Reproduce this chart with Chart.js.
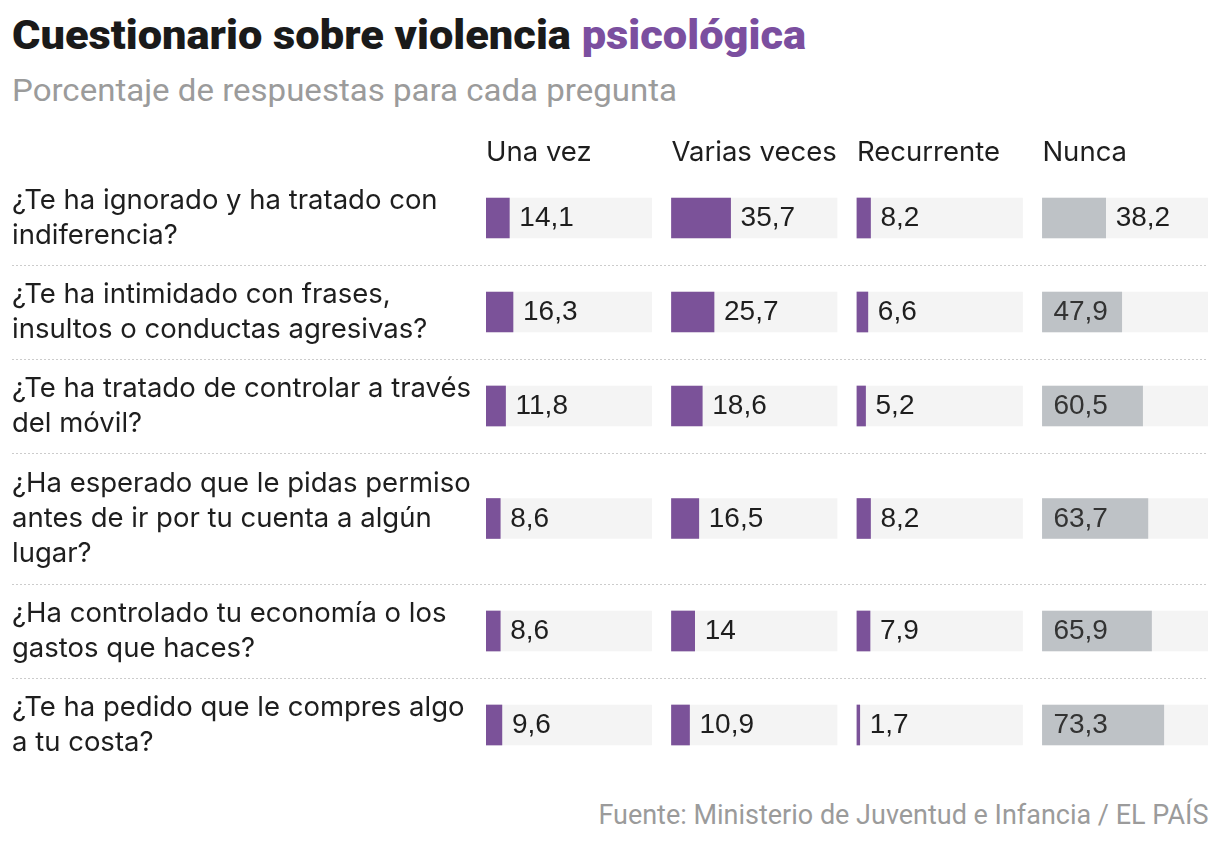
<!DOCTYPE html>
<html lang="es">
<head>
<meta charset="utf-8">
<title>Cuestionario sobre violencia psicológica</title>
<script src="https://cdn.jsdelivr.net/npm/chart.js@4.4.1/dist/chart.umd.min.js"></script>
<style>
  html, body { margin: 0; padding: 0; background: #fff; }
  body { width: 1220px; height: 844px; position: relative; overflow: hidden; font-family: Roboto, "Liberation Sans", sans-serif; }
  .txt { position: absolute; white-space: nowrap; line-height: 1; transform-origin: left top; }
  #title { left: 12px; top: 16px; font-size: 40px; font-weight: 900; color: #1a1a1a; }
  #title span { color: #7b4f9f; }
  #subtitle { left: 12px; top: 74px; font-size: 32px; color: #9b9b9b; }
  #source { right: 12px; top: 802px; font-size: 27px; color: #9b9b9b; transform-origin: right top; }
  #wrap { position: absolute; left: 0; top: 110px; width: 1220px; height: 680px; }
</style>
</head>
<body>
<div id="title" class="txt">Cuestionario sobre violencia <span>psicológica</span></div>
<div id="subtitle" class="txt">Porcentaje de respuestas para cada pregunta</div>
<div id="wrap"><canvas id="chart"></canvas></div>
<div id="source" class="txt">Fuente: Ministerio de Juventud e Infancia / EL PAÍS</div>

<script>
// Datos (porcentaje de respuestas)
const categories = ["Una vez", "Varias veces", "Recurrente", "Nunca"];

const questions = [
  ["¿Te ha ignorado y ha tratado con", "indiferencia?"],
  ["¿Te ha intimidado con frases,", "insultos o conductas agresivas?"],
  ["¿Te ha tratado de controlar a través", "del móvil?"],
  ["¿Ha esperado que le pidas permiso", "antes de ir por tu cuenta a algún", "lugar?"],
  ["¿Ha controlado tu economía o los", "gastos que haces?"],
  ["¿Te ha pedido que le compres algo", "a tu costa?"],
];

const unaVez = [14.1, 16.3, 11.8, 8.6, 8.6, 9.6];
const variasVeces = [35.7, 25.7, 18.6, 16.5, 14, 10.9];
const recurrente = [8.2, 6.6, 5.2, 8.2, 7.9, 1.7];
const nunca = [38.2, 47.9, 60.5, 63.7, 65.9, 73.3];

const series = [unaVez, variasVeces, recurrente, nunca];

// -------------------------
// Layout helpers
// -------------------------
const COL_GAP = 12;     // hueco entre columnas, en unidades del eje x
const LINE_H = 37;      // alto por línea de pregunta (unidades del eje y)
const ROW_PAD = 20;

const colOffset = (k) => k * (100 + COL_GAP);

// filas con alto según el número de líneas de la pregunta
const rowHeights = questions.map((q) => q.length * LINE_H + ROW_PAD);
const rowTops = [];
let acc = 0;
rowHeights.forEach((h) => {
  rowTops.push(acc);
  acc += h;
});
const totalH = acc;
const rowCenters = rowTops.map((t, i) => t + rowHeights[i] / 2);

const PURPLE = "#7b5299";
const GREY = "#bec2c6";
const barColors = [PURPLE, PURPLE, PURPLE, GREY];
const LABEL_FONT = "Inter";

function fmt(v) {
  return String(v).replace(".", ",");
}

// -------------------------
// Datasets
// -------------------------
const datasets = [];

series.forEach((vals, k) => {
  datasets.push({
    label: categories[k],
    data: vals.map((v, i) => ({ x: [colOffset(k), colOffset(k) + v], y: rowCenters[i] })),
    backgroundColor: barColors[k],
    order: 0,
    col: k,
    valueLabels: true,
    labelInside: k === 3, // en "Nunca" la cifra va dentro si cabe
  });
});

// fondo gris claro (100 %)
series.forEach((vals, k) => {
  datasets.push({
    label: categories[k] + " (fondo)",
    data: vals.map((v, i) => ({ x: [colOffset(k), colOffset(k) + 100], y: rowCenters[i] })),
    backgroundColor: "#f4f4f4",
    order: 1,
  });
});

// -------------------------
// Plugins
// -------------------------
const rowSeparators = {
  id: "rowSeparators",
  beforeDatasetsDraw(chart) {
    const { ctx, chartArea, scales } = chart;
    const y = scales.y;
    ctx.save();
    ctx.strokeStyle = "#cccccc";
    ctx.lineWidth = 1;
    ctx.setLineDash([2, 2]);
    rowTops.slice(1).forEach((t) => {
      const py = Math.round(y.getPixelForValue(t)) + 0.5;
      ctx.beginPath();
      ctx.moveTo(y.left, py);
      ctx.lineTo(chartArea.right, py);
      ctx.stroke();
    });
    ctx.restore();
  },
};

const valueLabels = {
  id: "valueLabels",
  afterDatasetsDraw(chart) {
    const { ctx } = chart;
    ctx.save();
    ctx.font = '28px "Liberation Sans", Arial, sans-serif';
    ctx.textAlign = "left";
    ctx.textBaseline = "alphabetic";
    chart.data.datasets.forEach((ds, di) => {
      if (!ds.valueLabels) return;
      const meta = chart.getDatasetMeta(di);
      meta.data.forEach((bar, i) => {
        const txt = fmt(series[ds.col][i]);
        const w = ctx.measureText(txt).width;
        const start = Math.min(bar.x, bar.base);
        const end = Math.max(bar.x, bar.base);
        let x = end + 10;
        ctx.fillStyle = "#1e1e1e";
        if (ds.labelInside && end - start > w + 22) {
          x = start + 11;
          ctx.fillStyle = "#333";
        }
        ctx.fillText(txt, x, bar.y + 8);
      });
    });
    ctx.restore();
  },
};

// -------------------------
// Chart
// -------------------------
const chart = new Chart(document.getElementById("chart"), {
  type: "bar",
  data: { datasets },
  plugins: [rowSeparators, valueLabels],
  options: {
    indexAxis: "y",
    responsive: true,
    maintainAspectRatio: false,
    animation: false,
    events: [],
    layout: { padding: { left: 12, right: 12, top: 0, bottom: 18 } },
    datasets: {
      bar: { grouped: false, barThickness: 40, borderWidth: 0 },
    },
    plugins: {
      legend: { display: false },
      tooltip: { enabled: false },
    },
    scales: {
      x: {
        type: "linear",
        position: "top",
        min: 0,
        max: colOffset(categories.length - 1) + 100,
        grid: { display: false, drawTicks: false },
        border: { display: false },
        afterBuildTicks: (s) => {
          s.ticks = categories.map((c, k) => ({ value: colOffset(k) }));
        },
        afterFit: (s) => {
          s.height = 61;
          s.paddingLeft = 0;
          s.paddingRight = 0;
        },
        ticks: {
          align: "start",
          autoSkip: false,
          maxRotation: 0,
          padding: 2,
          color: "#1e1e1e",
          font: { family: LABEL_FONT, size: 27.5 },
          callback: (v, i) => categories[i],
        },
      },
      y: {
        type: "linear",
        reverse: true,
        offset: false, // el bar chart lo activa por defecto en el eje índice
        min: 0,
        max: totalH,
        grid: { display: false, drawTicks: false, offset: false },
        border: { display: false },
        afterBuildTicks: (s) => {
          s.ticks = rowCenters.map((v) => ({ value: v }));
        },
        afterFit: (s) => {
          s.width = 474;
          s.paddingTop = 0;
          s.paddingBottom = 0;
        },
        ticks: {
          crossAlign: "far",
          autoSkip: false,
          padding: 0,
          color: "#1e1e1e",
          font: { family: LABEL_FONT, size: 27.5, lineHeight: 1.28 },
          callback: (v, i) => questions[i],
        },
      },
    },
  },
});

// ajustar el ancho de los textos HTML al original (fuente más estrecha)
function fitWidth(id, target) {
  const el = document.getElementById(id);
  const w = el.getBoundingClientRect().width;
  el.style.transform = `scaleX(${target / w})`;
}
fitWidth("title", 794);
fitWidth("subtitle", 665);
fitWidth("source", 610);
</script>
</body>
</html>
